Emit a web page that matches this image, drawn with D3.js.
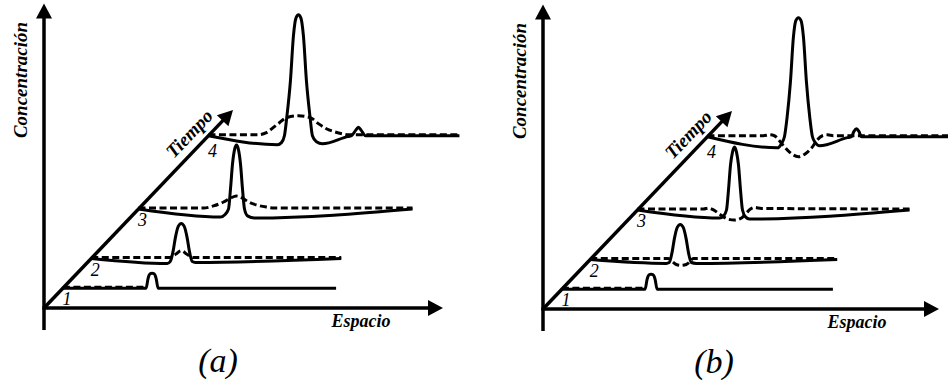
<!DOCTYPE html>
<html>
<head>
<meta charset="utf-8">
<script src="https://cdn.jsdelivr.net/npm/d3@7"></script>
<style>
  body { margin: 0; background: #fff; }
</style>
</head>
<body>
<script>
// where each snapshot sits on the Tiempo axis (0-100)
var tiempos = [10, 25, 50, 87];
var etiquetas = ["1", "2", "3", "4"];
var paneles = ["(a)", "(b)"];

// curves as [espacio, concentración] pairs, measured from each snapshot's baseline
// panel (a), solid
var solidoA1 = [[0,0],[20.8,0],[21.3,3.3],[21.8,4.8],[22.3,5],[22.8,4.8],[23.3,3.3],[23.8,0],[68.3,0]];
var solidoA2 = [[0,0],[19,-1.7],[19.75,-1],[20.5,2.7],[21,6.7],[21.75,10.7],[22.5,11.7],[23.25,10.7],[24,6.7],[24.5,2.7],[25.25,-1],[26,-1.3],[62.5,0]];
var solidoA3 = [[0,0],[20.5,-2.7],[21.5,-2],[22.5,0],[23,6.7],[23.5,15],[24,19.7],[24.5,21.3],[25,19.7],[25.5,15],[26,6.7],[26.5,0],[27.25,-2.3],[29,-3],[68.5,0]];
var solidoA4 = [[0,0],[17.25,-3],[18.25,-2.3],[19,0],[19.6,6.3],[20.5,18.3],[21.25,33.3],[21.9,39.3],[22.5,40.3],[23.1,39.3],[23.75,33.3],[24.5,18.3],[25.4,6.3],[26,0],[27,-2],[28.5,-2.7],[34.75,-0.3],[35.75,0],[36.75,1.7],[37.5,2.8],[38.25,1.7],[39.25,0],[62.75,0]];
// panel (a), dashed
var trazosA1 = [[0,0],[20.5,0]];
var trazosA2 = [[0,0],[19.5,0],[21,1],[22.5,2.3],[24,1],[25.5,0],[62.5,0]];
var trazosA3 = [[0,0],[16.25,0],[18.75,0.7],[21.25,2],[23,3.3],[24.5,4],[26,3.3],[27.5,2],[29.5,1],[32,0.3],[34,0],[68.5,0]];
var trazosA4 = [[0,0],[12.5,0],[14.5,0.7],[16.5,2.7],[17.75,4],[19.5,5.7],[22.5,6.3],[25.5,5.7],[27.5,3.7],[29.5,2],[31.5,1],[33.5,0.3],[35,0],[62.75,0]];

// panel (b), solid
var solidoB1 = [[0,0],[20.8,0],[21.3,3.3],[21.8,4.8],[22.3,5],[22.8,4.8],[23.3,3.3],[23.8,0],[67.75,0]];
var solidoB2 = [[0,0],[19,-1.3],[19.75,-1],[20.5,2.7],[21,6.7],[21.75,10.7],[22.5,11.7],[23.25,10.7],[24,6.7],[24.5,2.7],[25.25,-1],[26.5,-1.3],[61.75,0]];
var solidoB3 = [[0,0],[20.5,-2.7],[21.5,-2],[22.25,0],[22.75,6.7],[23.25,15],[23.75,19.3],[24.25,21],[24.75,19.3],[25.25,15],[25.75,6.7],[26.25,0],[27,-2.3],[28,-3],[68,0]];
var solidoB4 = [[0,0],[17.5,-3.7],[18.5,-2.3],[19.25,0],[19.9,6.3],[20.75,18.3],[21.5,33.3],[22.1,38.7],[22.75,39.7],[23.4,38.7],[24,33.3],[24.75,18.3],[25.6,6.3],[26.25,0],[27,-2],[28,-3],[35,-0.3],[36,0],[36.6,1.7],[37.25,2.7],[37.9,1.7],[38.5,0],[60.5,0]];
// panel (b), dashed
var trazosB1 = [[0,0],[20.5,0]];
var trazosB2 = [[0,0],[19.5,0],[20.5,-1],[21.5,-2],[22.75,-2.3],[24,-2],[25,-1],[25.75,0],[61.75,0]];
var trazosB3 = [[0,0],[16.5,0],[17.75,0.3],[19,-0.3],[20.5,-1.7],[22.5,-3.3],[24.25,-3.7],[26,-3],[27.25,-1.3],[28.25,0],[29.25,0.5],[31,0.2],[68,0]];
var trazosB4 = [[0,0],[14,0],[15.5,0.3],[16.75,0],[18,-1.7],[19.25,-3.7],[21,-6],[22.75,-7],[24.5,-6],[26.25,-3.7],[27.5,-1.3],[28.75,0],[30,0.3],[31.5,0],[60.5,0]];

var solidos = [[solidoA1, solidoA2, solidoA3, solidoA4], [solidoB1, solidoB2, solidoB3, solidoB4]];
var trazos = [[trazosA1, trazosA2, trazosA3, trazosA4], [trazosB1, trazosB2, trazosB3, trazosB4]];

// layout of the two panels
var origenes = [[44, 308], [543, 309]];
var largoEspacio = [399, 396];
var serif = "Liberation Serif, Times New Roman, serif";

var svg = d3.select("body")
  .append("svg")
  .attr("width", 948)
  .attr("height", 381);

// espacio -> px to the right, concentración -> px up, tiempo -> along the diagonal
var x = d3.scaleLinear().domain([0, 100]).range([0, 400]);
var y = d3.scaleLinear().domain([0, 100]).range([0, -300]);
var tx = d3.scaleLinear().domain([0, 100]).range([0, 189]);
var ty = d3.scaleLinear().domain([0, 100]).range([0, -198]);

var line = d3.line()
  .x(d => x(d[0]))
  .y(d => y(d[1]))
  .curve(d3.curveMonotoneX);

// line with a filled arrow head at (x2, y2)
function arrow(g, x1, y1, x2, y2) {
  var len = 15, half = 8;
  var a = Math.atan2(y2 - y1, x2 - x1);
  var bx = x2 - len * Math.cos(a), by = y2 - len * Math.sin(a);
  g.append("line")
    .attr("x1", x1).attr("y1", y1)
    .attr("x2", bx + 2 * Math.cos(a)).attr("y2", by + 2 * Math.sin(a))
    .attr("stroke", "#000")
    .attr("stroke-width", 3.5);
  g.append("path")
    .attr("d", "M" + x2 + "," + y2 +
      "L" + (bx + half * Math.sin(a)) + "," + (by - half * Math.cos(a)) +
      "L" + (bx - half * Math.sin(a)) + "," + (by + half * Math.cos(a)) + "Z")
    .attr("fill", "#000");
}

paneles.forEach(function(nombre, p) {
  var g = svg.append("g")
    .attr("transform", `translate(${origenes[p][0]}, ${origenes[p][1]})`);

  // axes
  arrow(g, 0, 22, 0, y(101.5));
  arrow(g, -1.7, 0, largoEspacio[p], 0);
  arrow(g, 0, 0, tx(100), ty(100));

  // snapshots
  tiempos.forEach(function(t, i) {
    var s = g.append("g")
      .attr("transform", `translate(${tx(t)}, ${ty(t)})`);

    s.append("path")
      .attr("d", line(solidos[p][i]))
      .attr("fill", "none")
      .attr("stroke", "#000")
      .attr("stroke-width", 3)
      .attr("stroke-linejoin", "round");

    s.append("path")
      .attr("transform", "translate(0, -1)")
      .attr("d", line(trazos[p][i]))
      .attr("fill", "none")
      .attr("stroke", "#000")
      .attr("stroke-width", 3)
      .attr("stroke-dasharray", "7,3.5");

    s.append("text")
      .attr("x", 4)
      .attr("y", i == 3 ? 21 : 17)
      .attr("text-anchor", "middle")
      .attr("font-family", serif)
      .attr("font-style", "italic")
      .attr("font-size", 18)
      .text(etiquetas[i]);
  });

  // labels
  g.append("text")
    .attr("transform", "translate(-17, -228) rotate(-90)")
    .attr("text-anchor", "middle")
    .attr("font-family", serif)
    .attr("font-style", "italic")
    .attr("font-weight", "bold")
    .attr("font-size", 19)
    .text("Concentración");

  g.append("text")
    .attr("x", p == 0 ? 317 : 314)
    .attr("y", 19)
    .attr("text-anchor", "middle")
    .attr("font-family", serif)
    .attr("font-style", "italic")
    .attr("font-weight", "bold")
    .attr("font-size", 18)
    .text("Espacio");

  g.append("text")
    .attr("transform", "translate(150, -170) rotate(-46.3)")
    .attr("text-anchor", "middle")
    .attr("font-family", serif)
    .attr("font-style", "italic")
    .attr("font-weight", "bold")
    .attr("font-size", 19)
    .text("Tiempo");

  g.append("text")
    .attr("x", p == 0 ? 174 : 171)
    .attr("y", 64)
    .attr("text-anchor", "middle")
    .attr("font-family", serif)
    .attr("font-style", "italic")
    .attr("font-size", 34)
    .text(nombre);
});
</script>
</body>
</html>
